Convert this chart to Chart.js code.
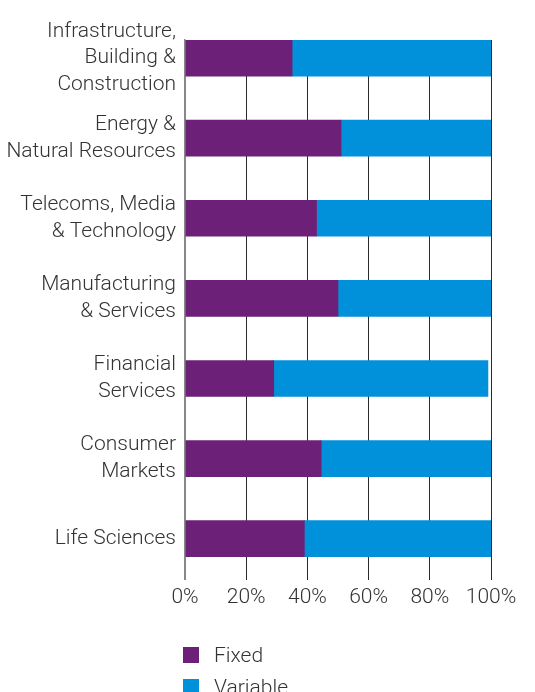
<!DOCTYPE html>
<html><head><meta charset="utf-8">
<script src="https://cdn.jsdelivr.net/npm/chart.js@4"></script>
<style>
html,body{margin:0;padding:0;background:#fff;}
#wrap{position:relative;width:535px;height:692px;overflow:hidden;}
canvas{position:absolute;left:0;top:0;}
.legend{position:absolute;left:183px;top:639px;font-family:Roboto,'Liberation Sans',sans-serif;font-weight:300;font-size:21px;color:#333;}
.item{display:flex;align-items:center;height:32px;}
.sw{width:16px;height:16px;margin-right:15px;}
</style></head>
<body><div id="wrap"><canvas id="c" width="535" height="692"></canvas><div class="legend" id="legend"></div></div>
<script>
const categories = [["Infrastructure,","Building &","Construction"],["Energy &","Natural Resources"],["Telecoms, Media","& Technology"],["Manufacturing","& Services"],["Financial","Services"],["Consumer","Markets"],["Life Sciences"]];
const fixedShare = [35, 51, 43, 50, 29, 44.5, 39];
const variableShare = [65, 49, 57, 50, 70, 55.5, 61];
const xTicks = [0, 20, 40, 60, 80, 100];
const seriesNames = ["Fixed", "Variable"];
const seriesColors = ["#6D2077", "#0091DA"];

const FONT = "Roboto, 'Liberation Sans', sans-serif";
const toPoints = arr => arr.map((v, i) => ({ x: v, y: i }));

new Chart(document.getElementById('c'), {
  type: 'bar',
  data: {
    datasets: [
      { label: seriesNames[0], data: toPoints(fixedShare), backgroundColor: seriesColors[0], barThickness: 36 },
      { label: seriesNames[1], data: toPoints(variableShare), backgroundColor: seriesColors[1], barThickness: 36 }
    ]
  },
  options: {
    indexAxis: 'y',
    responsive: false,
    animation: false,
    layout: { padding: { top: 40, right: 44, bottom: 77, left: 0 } },
    plugins: { legend: { display: false }, tooltip: { enabled: false } },
    scales: {
      x: {
        type: 'linear', stacked: true, min: 0, max: 100,
        afterBuildTicks: s => { s.ticks = xTicks.map(v => ({ value: v })); },
        grid: { color: ctx => ctx.index === 0 ? '#888' : '#2a2a2a', lineWidth: 1, drawTicks: false },
        border: { display: false },
        ticks: { padding: 5, color: '#333', font: { family: FONT, size: 21, weight: 300 }, callback: v => v + '%', maxRotation: 0 }
      },
      y: {
        type: 'linear', stacked: true, reverse: true, offset: false, min: -0.2255, max: 6.5136,
        afterBuildTicks: s => { s.ticks = categories.map((_, i) => ({ value: i })); },
        afterFit: s => { s.width = 185; },
        grid: { display: false, drawTicks: false, offset: false },
        border: { display: true, color: '#888', width: 1.5, z: 1 },
        ticks: { padding: 9, autoSkip: false, color: '#333', font: { family: FONT, size: 21, weight: 300, lineHeight: 1.27 }, callback: v => categories[v] }
      }
    }
  }
});

const lg = document.getElementById('legend');
seriesNames.forEach((n, i) => {
  const it = document.createElement('div'); it.className = 'item';
  const sw = document.createElement('div'); sw.className = 'sw'; sw.style.background = seriesColors[i];
  const tx = document.createElement('span'); tx.textContent = n;
  it.appendChild(sw); it.appendChild(tx); lg.appendChild(it);
});
</script>
</body></html>
